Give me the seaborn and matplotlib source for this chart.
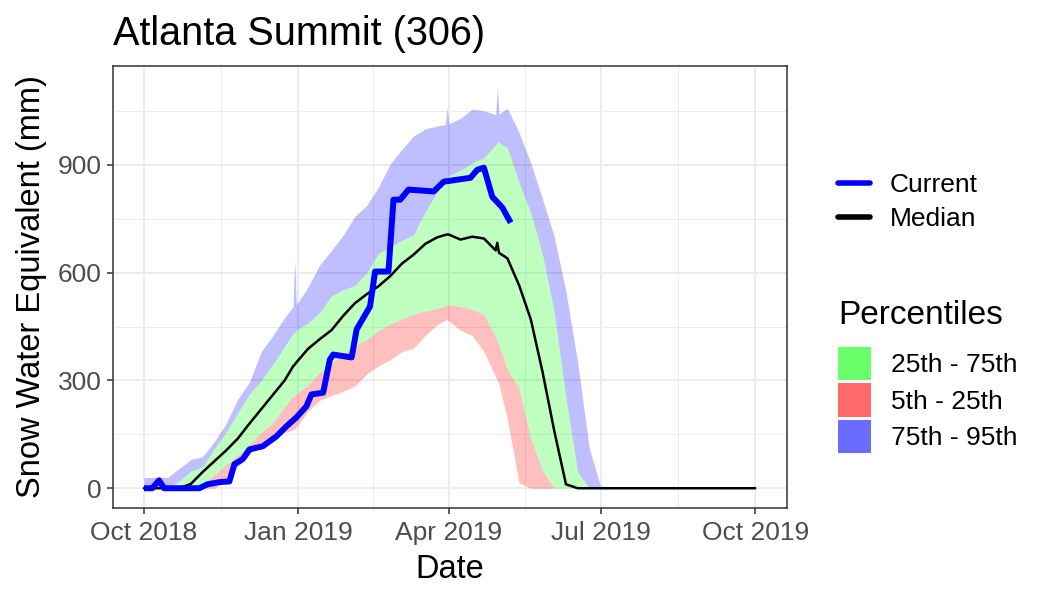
import numpy as np
import pandas as pd
import matplotlib
matplotlib.use("Agg")
import matplotlib.pyplot as plt
from matplotlib.patches import Patch
from matplotlib.lines import Line2D
import seaborn as sns

# days since 2018-10-01, shared by the percentile bands and the median
pct_day = [0, 7, 14, 21, 28, 35, 42, 49, 56, 63,
           70, 77, 84, 89, 90, 91, 98, 105, 112, 119,
           126, 133, 140, 147, 154, 161, 168, 175, 180, 181,
           182, 189, 196, 203, 210, 211, 212, 217, 224, 231,
           238, 245, 252, 259, 266, 273, 365]
p95 = [30, 30, 30, 55, 80, 88, 130, 180, 248, 295,
       380, 425, 475, 505, 636, 510, 560, 622, 662, 705,
       757, 787, 838, 902, 943, 980, 1000, 1008, 1012, 1061,
       1014, 1030, 1055, 1050, 1040, 1114, 1042, 1057, 990, 905,
       805, 700, 547, 350, 110, 0, 0]
p75 = [0, 0, 0, 20, 48, 60, 110, 155, 210, 262,
       300, 345, 395, 430, 435, 440, 460, 490, 535, 552,
       565, 600, 653, 672, 690, 705, 770, 825, 850, 860,
       870, 885, 905, 920, 955, 964, 962, 947, 850, 766,
       650, 490, 250, 45, 0, 0, 0]
p25 = [0, 0, 0, 0, 0, 12, 37, 65, 91, 122,
       155, 183, 227, 256, 258, 262, 288, 322, 348, 372,
       395, 414, 438, 458, 470, 485, 493, 500, 507, 510,
       511, 505, 498, 483, 420, 410, 400, 330, 277, 136,
       50, 0, 0, 0, 0, 0, 0]
p5 = [0, 0, 0, 0, 0, 0, 0, 20, 60, 95,
      125, 140, 155, 162, 165, 170, 215, 245, 258, 270,
      285, 318, 340, 358, 380, 390, 425, 455, 468, 469,
      465, 440, 425, 380, 310, 300, 290, 192, 15, 0,
      0, 0, 0, 0, 0, 0, 0]
median = [0, 0, 0, 0, 12, 45, 75, 105, 138, 180,
          220, 260, 300, 339, 344, 350, 388, 415, 440, 480,
          515, 540, 562, 590, 625, 650, 680, 698, 705, 706,
          706, 692, 700, 695, 662, 683, 655, 640, 565, 470,
          324, 160, 11, 0, 0, 0, 0]

# current water year
cur_day = [0, 5, 9, 12, 33, 38, 45, 51, 54, 59,
           63, 71, 79, 85, 91, 97, 100, 107, 111, 113,
           124, 127, 135, 138, 146, 149, 153, 158, 173, 179,
           195, 199, 203, 208, 214, 219]
cur_swe = [0, 0, 22, 0, 0, 11, 17, 19, 67, 81,
           108, 117, 144, 172, 197, 228, 261, 266, 358, 372,
           364, 442, 506, 603, 603, 803, 803, 831, 826, 853,
           864, 886, 892, 811, 781, 739]

band_labels = ["25th - 75th", "5th - 25th", "75th - 95th"]
band_colors = ["#00FF00", "#FF0000", "#0000FF"]
key_colors = ["#6BFF6B", "#FF6B6B", "#6B6BFF"]
x_ticks = ["2018-10-01", "2019-01-01", "2019-04-01", "2019-07-01", "2019-10-01"]
y_ticks = [0, 300, 600, 900]

start = pd.Timestamp("2018-10-01")


def to_date(days):
    return start + pd.to_timedelta(np.asarray(days), unit="D")


sns.set_theme(style="white")
plt.rcParams["font.family"] = ["Liberation Sans", "DejaVu Sans"]
plt.rcParams["text.color"] = "black"
plt.rcParams["axes.labelcolor"] = "black"

fig = plt.figure(figsize=(10.5, 6), dpi=100)
ax = fig.add_axes([113 / 1050, 1 - 508 / 600, (787 - 113) / 1050, (508 - 66) / 600])

x = to_date(pct_day)
ax.fill_between(x, p25, p75, color=band_colors[0], alpha=0.25, lw=0)
ax.fill_between(x, p5, p25, color=band_colors[1], alpha=0.25, lw=0)
ax.fill_between(x, p75, p95, color=band_colors[2], alpha=0.25, lw=0)

sns.lineplot(x=x, y=median, color="black", lw=1.8, ax=ax, legend=False)
sns.lineplot(x=to_date(cur_day), y=cur_swe, color="blue", lw=4.3, ax=ax,
             legend=False, solid_joinstyle="round", solid_capstyle="butt")

# axes / grid like theme_bw
ax.set_xlim(start - pd.Timedelta(days=18.5), start + pd.Timedelta(days=384))
ax.set_ylim(-55, 1175)
major_x = pd.to_datetime(x_ticks)
ax.set_xticks(major_x)
ax.set_xticklabels([d.strftime("%b %Y") for d in major_x])
ax.set_xticks(major_x[:-1] + (major_x[1:] - major_x[:-1]) / 2, minor=True)
ax.set_yticks(y_ticks)
ax.set_yticks([150, 450, 750, 1050], minor=True)
ax.grid(which="major", color="#EBEBEB", lw=1.3)
ax.grid(which="minor", color="#EBEBEB", lw=0.7)
ax.set_axisbelow(True)
for s in ax.spines.values():
    s.set_color("#333333")
    s.set_linewidth(1.1)
ax.tick_params(which="major", length=4, width=1.1, color="#333333",
               labelcolor="#4D4D4D", labelsize=19, bottom=True, left=True)
ax.tick_params(axis="x", which="major", pad=5.5)
ax.tick_params(axis="y", which="major", pad=4)
ax.tick_params(which="minor", length=0)

ax.set_title("Atlanta Summit (306)", loc="left", fontsize=28.5, pad=15)
ax.set_xlabel("Date", fontsize=23.5, labelpad=6)
ax.set_ylabel("Snow Water Equivalent (mm)", fontsize=23.5, labelpad=8)

leg1 = ax.legend(handles=[Line2D([], [], color="blue", lw=4),
                          Line2D([], [], color="black", lw=4)],
                 labels=["Current", "Median"], loc="upper left",
                 bbox_to_anchor=(838 / 1050, 1 - 173 / 600),
                 bbox_transform=fig.transFigure, frameon=False, fontsize=19,
                 handlelength=1.2, handletextpad=0.75, labelspacing=0.37,
                 borderpad=0, borderaxespad=0)
ax.add_artist(leg1)
ax.legend(handles=[Patch(facecolor=c, edgecolor="none") for c in key_colors],
          labels=band_labels, loc="upper left",
          bbox_to_anchor=(838 / 1050, 1 - 347 / 600),
          bbox_transform=fig.transFigure, frameon=False, fontsize=19,
          handlelength=1.25, handleheight=1.55, handletextpad=0.75,
          labelspacing=0.13, borderpad=0, borderaxespad=0)
fig.text(838 / 1050, 1 - 316 / 600, "Percentiles", fontsize=24,
         ha="left", va="center")

fig.savefig("out.png", dpi=100)
